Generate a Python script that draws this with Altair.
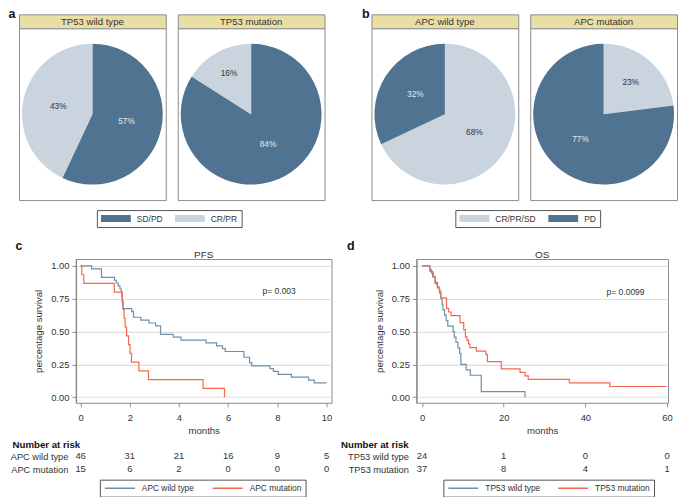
import altair as alt
import pandas as pd

FONT = "Liberation Sans"
DARK = "#4F7390"
LIGHT = "#C9D4DF"
KHAKI = "#E9DEA4"
FRAME = "#8C8C8C"
BLUE = "#6F8FA9"
RED = "#F36B4E"
INK = "#333333"
ONDARK = "#E3EAF0"

# ---------- panels a / b : response shares (%) ----------
tp53_groups = ["TP53 wild type", "TP53 mutation"]
tp53_classes = ["SD/PD", "CR/PR"]
tp53_wt_pct = [57, 43]
tp53_mut_pct = [84, 16]

apc_groups = ["APC wild type", "APC mutation"]
apc_classes = ["CR/PR/SD", "PD"]
apc_wt_pct = [68, 32]
apc_mut_pct = [23, 77]

# ---------- panel c : PFS by APC status ----------
pfs_groups = ["APC wild type", "APC mutation"]
pfs_wt_t = [0, 0.45, 0.85, 1.38, 1.45, 1.53, 1.6, 1.65, 1.68, 1.7, 1.72, 2.08, 2.15, 2.45,
            2.78, 3.05, 3.25, 3.77, 4.08, 5.1, 5.53, 5.77, 5.88, 6.64, 6.87, 6.96, 7.7, 7.84,
            8.04, 8.57, 9.27, 9.5, 10.0]
pfs_wt_s = [1.0, 0.978, 0.913, 0.891, 0.870, 0.848, 0.826, 0.804, 0.761, 0.717, 0.674, 0.652,
            0.609, 0.587, 0.565, 0.543, 0.478, 0.457, 0.435, 0.413, 0.391, 0.370, 0.348, 0.304,
            0.261, 0.239, 0.217, 0.196, 0.174, 0.152, 0.130, 0.109, 0.109]
pfs_mut_t = [0, 0.05, 0.13, 1.37, 1.69, 1.73, 1.77, 1.81, 1.87, 1.95, 2.01, 2.07, 2.37, 2.76,
             4.98, 5.85]
pfs_mut_s = [1.0, 0.933, 0.867, 0.8, 0.733, 0.667, 0.6, 0.533, 0.467, 0.4, 0.333, 0.267, 0.2,
             0.133, 0.067, 0.0]
pfs_risk_t = [0, 2, 4, 6, 8, 10]
pfs_risk_wt = [46, 31, 21, 16, 9, 5]
pfs_risk_mut = [15, 6, 2, 0, 0, 0]
pfs_p_label = ["p= 0.003"]
pfs_p_t = [7.4]
pfs_p_s = [0.81]

# ---------- panel d : OS by TP53 status ----------
os_groups = ["TP53 wild type", "TP53 mutation"]
os_wt_t = [0, 1.9, 2.6, 3.2, 3.8, 4.3, 4.6, 4.9, 5.1, 5.5, 5.9, 6.3, 7.6, 7.9, 8.3, 8.8, 9.2,
           9.5, 10.8, 11.8, 14.5, 25.2]
os_wt_s = [1.0, 0.958, 0.917, 0.875, 0.833, 0.792, 0.75, 0.708, 0.667, 0.625, 0.583, 0.542,
           0.5, 0.458, 0.417, 0.375, 0.333, 0.25, 0.208, 0.167, 0.042, 0.0]
os_mut_t = [0, 1.9, 2.3, 2.8, 3.2, 3.7, 4.2, 4.6, 6.0, 6.5, 7.1, 9.3, 10.2, 10.6, 11.0, 11.4,
            11.7, 13.3, 15.6, 16.0, 19.4, 24.0, 25.2, 26.0, 36.1, 46.0, 59.9]
os_mut_s = [1.0, 0.973, 0.946, 0.919, 0.865, 0.838, 0.811, 0.757, 0.676, 0.649, 0.622, 0.568,
            0.514, 0.459, 0.432, 0.405, 0.378, 0.351, 0.324, 0.270, 0.216, 0.189, 0.162, 0.135,
            0.108, 0.081, 0.081]
os_risk_t = [0, 20, 40, 60]
os_risk_wt = [24, 1, 0, 0]
os_risk_mut = [37, 8, 4, 1]
os_p_label = ["p= 0.0099"]
os_p_t = [45.2]
os_p_s = [0.80]

PIE_W = 147
PIE_H = 172


def letter_title(letter, dx, offset):
    return alt.TitleParams(letter, anchor="start", dx=dx, fontSize=12.5, fontWeight="bold",
                           color="#111111", offset=offset, baseline="alphabetic", font=FONT)


def pie_legend(lx, ly):
    return alt.Legend(title=None, orient="none", legendX=lx, legendY=ly, direction="horizontal",
                      symbolType="M-1,-0.233H1V0.233H-1Z", symbolSize=900, symbolStrokeWidth=0,
                      symbolOpacity=1, clipHeight=9, labelFont=FONT, labelFontSize=8.5,
                      labelColor=INK, labelOffset=6, columnPadding=12, padding=4,
                      strokeColor="#555555", fillColor="white")


def km_legend(lx, ly):
    return alt.Legend(title=None, orient="none", legendX=lx, legendY=ly, direction="horizontal",
                      symbolType="stroke", symbolSize=900, symbolStrokeWidth=1.5, clipHeight=9,
                      labelFont=FONT, labelFontSize=8.4, labelColor=INK, labelOffset=6,
                      columnPadding=17, padding=4, strokeColor="#555555", fillColor="white")


def pie_column(group, classes, pcts, colors, text_colors, legend):
    df = pd.DataFrame({"cls": classes, "pct": pcts, "o": list(range(len(classes))),
                       "tc": text_colors})
    theta_scale = alt.Scale(domain=[0, 100])
    arcs = alt.Chart(df).mark_arc(outerRadius=70.5).encode(
        theta=alt.Theta("pct:Q", stack=True, scale=theta_scale),
        order=alt.Order("o:Q"),
        color=alt.Color("cls:N", scale=alt.Scale(domain=classes, range=colors), legend=legend),
    )
    labels = alt.Chart(df).transform_window(
        cum="sum(pct)", sort=[alt.SortField("o", order="ascending")]
    ).transform_calculate(
        mid="datum.cum - datum.pct / 2",
        lbl="datum.pct + '%'",
        r="datum.pct < 20 ? 46 : (datum.pct < 30 ? 41 : 35)",
    ).mark_text(font=FONT, fontSize=8.3, fontWeight="normal").encode(
        theta=alt.Theta("mid:Q", scale=theta_scale),
        radius=alt.Radius("r:Q", scale=None),
        text="lbl:N",
        fill=alt.Fill("tc:N", scale=None),
    )
    pie = alt.layer(arcs, labels).properties(
        width=PIE_W, height=PIE_H,
        view=alt.ViewBackground(fill="white", stroke=FRAME, strokeWidth=1))
    head = alt.Chart(alt.Data(values=[{"name": group}])).mark_text(
        font=FONT, fontSize=9.6, fontWeight="normal", color=INK, baseline="middle",
        align="center"
    ).encode(text="name:N", x=alt.value(PIE_W / 2), y=alt.value(7.5)).properties(
        width=PIE_W, height=14,
        view=alt.ViewBackground(fill=KHAKI, stroke=FRAME, strokeWidth=1))
    return alt.vconcat(head, pie, spacing=0, bounds="flush")


def km_panel(letter, letter_dx, title, groups, curves, xdom, xticks, width, p_label, p_t, p_s,
             risk_t, risk_rows, title_x, lx, ly):
    rows = []
    for g, (ts, ss) in zip(groups, curves):
        rows += [{"g": g, "t": t, "s": s} for t, s in zip(ts, ss)]
    df = pd.DataFrame(rows)
    xscale = alt.Scale(domain=xdom, nice=False, zero=False)
    lines = alt.Chart(df).mark_line(interpolate="step-after", strokeWidth=1.2).encode(
        x=alt.X("t:Q", scale=xscale,
                axis=alt.Axis(values=xticks, tickCount=12, format="d", title="months",
                              grid=False, domain=False, tickSize=4, tickColor=FRAME,
                              labelPadding=7, titlePadding=3, labelOverlap=False)),
        y=alt.Y("s:Q", scale=alt.Scale(domain=[-0.043, 1.053], nice=False, zero=False),
                axis=alt.Axis(values=[0, 0.25, 0.5, 0.75, 1], tickCount=12, format=".2f",
                              title="percentage survival", grid=True, gridColor="#DEDEDE",
                              gridWidth=1.1, domain=True, domainColor=FRAME, domainWidth=1.4,
                              tickSize=4, tickColor=FRAME, labelPadding=3, titlePadding=7,
                              labelOverlap=False)),
        color=alt.Color("g:N", sort=groups, scale=alt.Scale(domain=groups, range=[BLUE, RED]),
                        legend=km_legend(lx, ly)),
    )
    pdf = pd.DataFrame({"t": p_t, "s": p_s, "lbl": p_label})
    ptext = alt.Chart(pdf).mark_text(align="left", baseline="middle", font=FONT, fontSize=8.5,
                                     color=INK).encode(x="t:Q", y="s:Q", text="lbl:N")
    km = alt.layer(lines, ptext).properties(
        width=width, height=144,
        title=alt.TitleParams(title, fontSize=10, fontWeight="normal", color=INK, offset=-1,
                              font=FONT),
        view=alt.ViewBackground(stroke=FRAME, strokeWidth=1))

    rrows = []
    for g, counts in zip(groups, risk_rows):
        rrows += [{"g": g, "t": t, "n": n} for t, n in zip(risk_t, counts)]
    rdf = pd.DataFrame(rrows)
    risk = alt.Chart(rdf).mark_text(font=FONT, fontSize=9.4, color=INK).encode(
        x=alt.X("t:Q", scale=xscale, axis=None),
        y=alt.Y("g:N", sort=groups,
                axis=alt.Axis(title="Number at risk", titleAngle=0, titleAlign="left",
                              titleBaseline="middle", titleX=title_x, titleY=-5.5,
                              titleFontWeight="bold", titleFontSize=9.7, titleColor="#111111",
                              labelFontSize=9.3, labelColor=INK, ticks=False, domain=False,
                              labelPadding=8, grid=False)),
        text="n:Q",
    ).properties(width=width, height=26, view=alt.ViewBackground(stroke="transparent"))
    return alt.vconcat(km, risk, spacing=3).properties(title=letter_title(letter, letter_dx, -13))


colA1 = pie_column(tp53_groups[0], tp53_classes, tp53_wt_pct, [DARK, LIGHT], [ONDARK, INK],
                   pie_legend(78, 196))
colA2 = pie_column(tp53_groups[1], tp53_classes, tp53_mut_pct, [DARK, LIGHT], [ONDARK, INK],
                   pie_legend(78, 196))
colB1 = pie_column(apc_groups[0], apc_classes, apc_wt_pct, [LIGHT, DARK], [INK, ONDARK],
                   pie_legend(84, 196))
colB2 = pie_column(apc_groups[1], apc_classes, apc_mut_pct, [LIGHT, DARK], [INK, ONDARK],
                   pie_legend(84, 196))

panelA = alt.hconcat(colA1, colA2, spacing=10).properties(title=letter_title("a", -10, -17))
panelB = alt.hconcat(colB1, colB2, spacing=10).properties(title=letter_title("b", -9, -17))
row1 = alt.hconcat(panelA, panelB, spacing=36).resolve_scale(color="independent")

panelC = km_panel("c", 6, "PFS", pfs_groups,
                  [(pfs_wt_t, pfs_wt_s), (pfs_mut_t, pfs_mut_s)],
                  [-0.191, 10.203], [0, 2, 4, 6, 8, 10], 256,
                  pfs_p_label, pfs_p_t, pfs_p_s,
                  pfs_risk_t, [pfs_risk_wt, pfs_risk_mut], -64, 24, 221)
panelD = km_panel("d", 7, "OS", os_groups,
                  [(os_wt_t, os_wt_s), (os_mut_t, os_mut_s)],
                  [-1.394, 60.245], [0, 20, 40, 60], 252,
                  os_p_label, os_p_t, os_p_s,
                  os_risk_t, [os_risk_wt, os_risk_mut], -76, 27, 221)

spacer = alt.Chart(alt.Data(values=[{"k": 0}])).mark_point(opacity=0).encode(
    x=alt.value(0), y=alt.value(0)
).properties(width=1, height=1, view=alt.ViewBackground(stroke="transparent"))

row2_inner = alt.hconcat(panelC, panelD, spacing=7).resolve_scale(color="independent")
row2 = alt.hconcat(spacer, row2_inner, spacing=-14).resolve_scale(color="independent")

chart = alt.vconcat(row1, row2, spacing=12).resolve_scale(color="independent").properties(
    padding=0
).configure(font=FONT).configure_axis(
    labelFont=FONT, titleFont=FONT, labelColor=INK, titleColor=INK, labelFontSize=9.4,
    titleFontSize=9.6, titleFontWeight="normal"
).configure_legend(labelFont=FONT).configure_title(font=FONT)

chart.save("out.html", embed_options={"renderer": "svg", "actions": False})
